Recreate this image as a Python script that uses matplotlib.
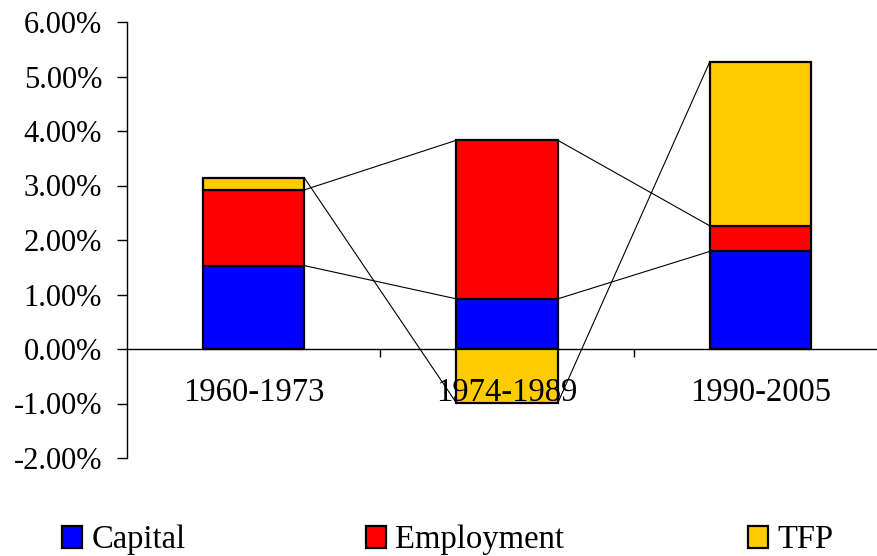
import matplotlib.pyplot as plt
from matplotlib.patches import Patch
from matplotlib.ticker import FuncFormatter

plt.switch_backend("Agg")
plt.rcParams["font.family"] = ["Liberation Serif", "DejaVu Serif"]

periods = ["1960-1973", "1974-1989", "1990-2005"]
capital = [1.53, 0.92, 1.79]
employment = [1.39, 2.91, 0.47]
tfp = [0.22, -0.99, 3.01]

series = [("Capital", capital, "#0000ff"),
          ("Employment", employment, "#ff0000"),
          ("TFP", tfp, "#ffcc00")]

BAR_W = 0.4
FS = 22
FS_CAT = 23.5

fig = plt.figure(figsize=(8.77, 5.56), dpi=100)
ax = fig.add_axes([127 / 877, 1 - 458 / 556, 1 - 127 / 877, (458 - 22) / 556])

x = list(range(len(periods)))
pos_base = [0.0] * len(x)
neg_base = [0.0] * len(x)
ends = {}
for name, vals, color in series:
    bottoms = [pos_base[i] if v >= 0 else neg_base[i] for i, v in enumerate(vals)]
    ax.bar(x, vals, width=BAR_W, bottom=bottoms, color=color,
           edgecolor="black", linewidth=1.6, zorder=3)
    ends[name] = [b + v for b, v in zip(bottoms, vals)]
    for i, v in enumerate(vals):
        if v >= 0:
            pos_base[i] += v
        else:
            neg_base[i] += v

# Excel-style series lines joining segment ends of neighbouring bars
for name, _, _ in series:
    e = ends[name]
    for i in range(len(x) - 1):
        ax.plot([x[i] + BAR_W / 2, x[i + 1] - BAR_W / 2], [e[i], e[i + 1]],
                color="black", linewidth=0.8, zorder=2)

ax.set_xlim(-0.5, 2.46)
ax.set_ylim(-2, 6)
ax.set_yticks(range(-2, 7))
ax.yaxis.set_major_formatter(FuncFormatter(lambda v, _: f"{v:.2f}%"))
ax.tick_params(axis="y", labelsize=FS, length=7, width=1, pad=11, direction="out")

ax.set_xticks([0.5, 1.5])
ax.set_xticklabels([])
ax.tick_params(axis="x", length=6, width=1, direction="out")
ax.spines["bottom"].set_position(("data", 0))
for side in ("top", "right"):
    ax.spines[side].set_visible(False)
for side in ("left", "bottom"):
    ax.spines[side].set_linewidth(1)

for i, label in enumerate(periods):
    ax.text(i, -0.8, label, ha="center", va="center", fontsize=FS_CAT, zorder=4)

# legend entries spread across the bottom like the original
legend_x = [62 / 877, 366 / 877, 748 / 877]
for (name, _, color), lx in zip(series, legend_x):
    fig.legend(handles=[Patch(facecolor=color, edgecolor="black", linewidth=1.6)],
               labels=[name], loc="center left", bbox_to_anchor=(lx, 1 - 540 / 556),
               frameon=False, fontsize=FS_CAT, handlelength=0.6, handleheight=0.65,
               handletextpad=0.3, borderpad=0, borderaxespad=0)

fig.savefig("out.png", dpi=100)
